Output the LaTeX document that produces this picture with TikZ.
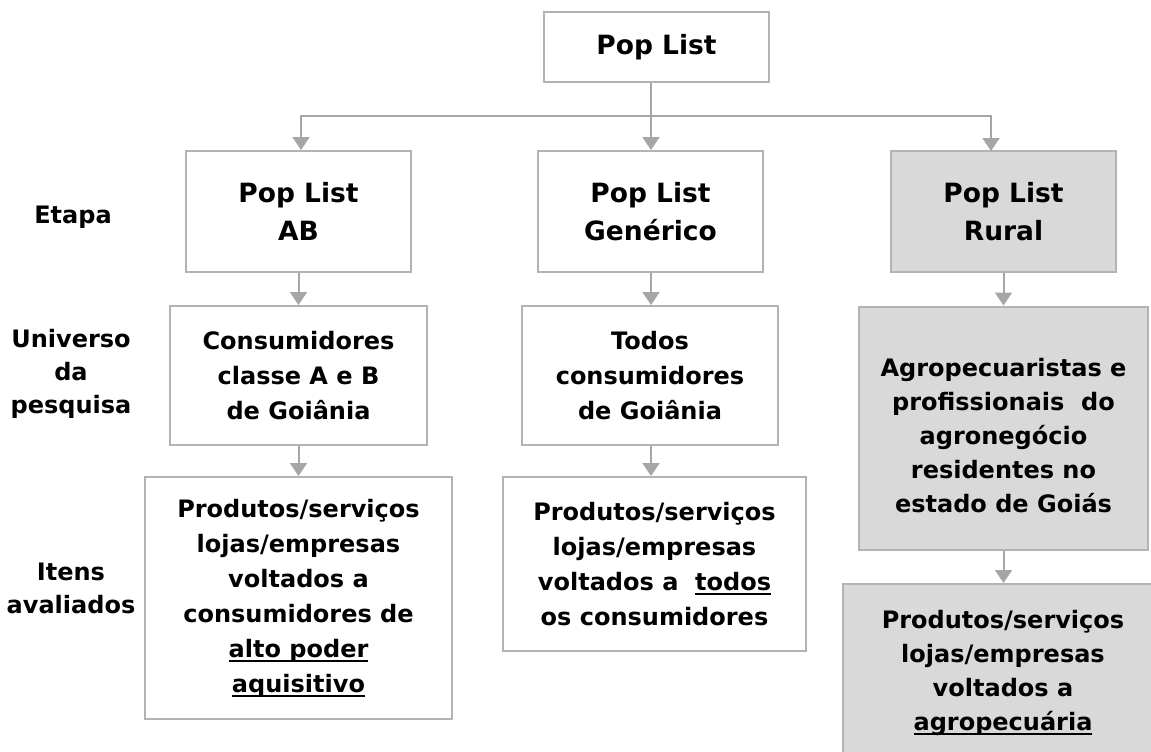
\documentclass[tikz,border=0pt]{standalone}
\usepackage{fontspec}
\setmainfont{DejaVu Sans}
\usetikzlibrary{arrows.meta}
\definecolor{lg}{HTML}{A6A6A6}
\definecolor{bd}{HTML}{B3B3B3}
\definecolor{fl}{HTML}{D9D9D9}
\newcommand\myul[1]{\setbox0\hbox{#1}\rlap{\rule[-4.5pt]{\wd0}{2pt}}\box0}
\begin{document}
\begin{tikzpicture}[x=1pt,y=-1pt,
 box/.style={draw=bd,line width=2pt,fill=white,inner sep=0pt,align=center,font={\bfseries\fontsize{24}{35}\selectfont}},
 tbox/.style={box,font={\bfseries\fontsize{26.5}{38}\selectfont}},
 gbox/.style={box,fill=fl},
 lab/.style={align=center,inner sep=0pt,font={\bfseries\fontsize{24}{33}\selectfont}},
 arr/.style={draw=lg,line width=2pt,-{Triangle[width=17pt,length=13pt]}},
 ln/.style={draw=lg,line width=2pt}]
\useasboundingbox (0,0) rectangle (1151,752);
\clip (0,0) rectangle (1151,752);
\fill[white] (0,0) rectangle (1151,752);
% top
\node[tbox,minimum width=225pt,minimum height=70pt] (top) at (656.5,47) {Pop List};
% row 1
\node[tbox,minimum width=225pt,minimum height=121pt] (ab) at (298.5,211.5) {Pop List\\AB};
\node[tbox,minimum width=225pt,minimum height=121pt] (gen) at (650.5,211.5) {Pop List\\Genérico};
\node[tbox,fill=fl,minimum width=225pt,minimum height=121pt] (rur) at (1003.5,211.5) {Pop List\\Rural};
% row 2
\node[box,minimum width=257pt,minimum height=139pt] (cons) at (298.5,375.5) {Consumidores\\classe A e B\\de Goiânia};
\node[box,minimum width=256pt,minimum height=139pt] (todos) at (650,375.5) {Todos\\consumidores\\de Goiânia};
\node[gbox,minimum width=289pt,minimum height=243pt] (agro) at (1003.5,428) {};
\node[lab,font={\bfseries\fontsize{24}{34}\selectfont}] (agrotxt) at (1003.5,436) {Agropecuaristas e\\profissionais\ \ do\\agronegócio\\residentes no\\estado de Goiás};
% row 3
\node[box,minimum width=307pt,minimum height=242pt] (iab) at (298.5,598) {Produtos/serviços\\lojas/empresas\\voltados a\\consumidores de\\\myul{alto poder}\\\myul{aquisitivo}};
\node[box,minimum width=303pt,minimum height=174pt] (igen) at (654.5,564) {Produtos/serviços\\lojas/empresas\\voltados a\ \ \myul{todos}\\os consumidores};
\node[gbox,minimum width=320pt,minimum height=186pt] (irur) at (1003,677) {};
\node[lab,font={\bfseries\fontsize{24}{34}\selectfont}] (irurtxt) at (1003,673) {Produtos/serviços\\lojas/empresas\\voltados a\\\myul{agropecuária}};
% labels
\node[lab] (l1) at (73,217) {Etapa};
\node[lab] (l2) at (71,374) {Universo\\da\\pesquisa};
\node[lab] (l3) at (71,588) {Itens\\avaliados};
% connectors
\coordinate (hj) at (651,116);
\coordinate (rin) at (991,151);
\draw[ln] (top.south -| hj) -- (hj);
\draw[arr] (hj) -| ([xshift=2.5pt]ab.north);
\draw[arr] (hj) -- (hj |- gen.north);
\draw[arr] (hj) -| (rin);
\draw[arr] (ab.south) -- (cons.north);
\draw[arr] (gen.south -| hj) -- (hj |- todos.north);
\draw[arr] (rur.south) -- (agro.north);
\draw[arr] (cons.south) -- (cons.south |- iab.north);
\draw[arr] (todos.south -| hj) -- (hj |- igen.north);
\draw[arr] (agro.south) -- (agro.south |- irur.north);
\end{tikzpicture}
\end{document}
